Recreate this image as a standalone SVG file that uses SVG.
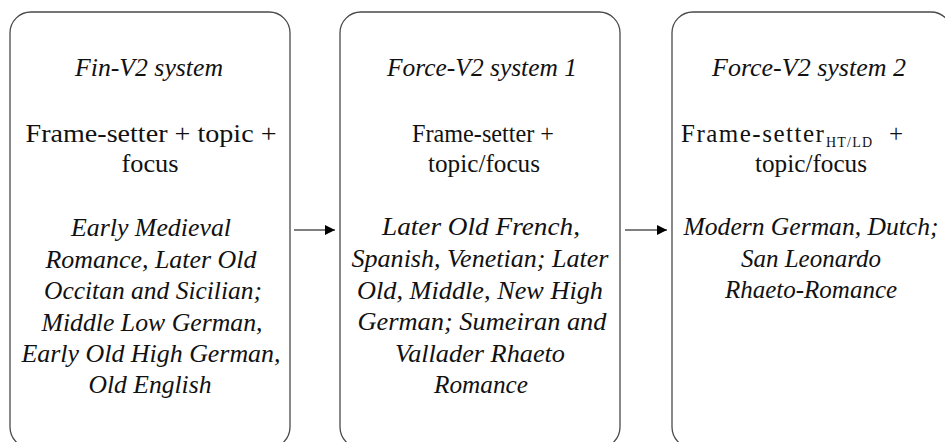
<svg xmlns="http://www.w3.org/2000/svg" width="945" height="442" viewBox="0 0 945 442">
<style>
.box{fill:#fff;stroke:#4a4a4a;stroke-width:1.3}
text{font-family:'Liberation Serif','DejaVu Serif',serif;font-size:25px;fill:#111;text-anchor:middle}
.i{font-style:italic}
.c{stroke:#000;stroke-width:1.1;fill:none}
</style>
<defs>
<marker id="ah" viewBox="0 0 10 10" refX="10" refY="5" markerWidth="10" markerHeight="10" markerUnits="userSpaceOnUse" orient="auto">
<path d="M0,0 L10,5 L0,10 Z" fill="#000"/>
</marker>
</defs>
<rect width="945" height="442" fill="#fff"/>
<g id="fin-v2">
<rect class="box" x="10" y="12" width="280" height="436" rx="21" ry="21"/>
<text class="i" x="149" y="76" textLength="148" lengthAdjust="spacingAndGlyphs">Fin-V2 system</text>
<text x="151" y="142" textLength="251" lengthAdjust="spacingAndGlyphs">Frame-setter + topic +</text>
<text x="150" y="172" textLength="57" lengthAdjust="spacingAndGlyphs">focus</text>
<text class="i" x="151" y="236" textLength="160" lengthAdjust="spacingAndGlyphs">Early Medieval</text>
<text class="i" x="151" y="268" textLength="211" lengthAdjust="spacingAndGlyphs">Romance, Later Old</text>
<text class="i" x="153" y="299" textLength="218" lengthAdjust="spacingAndGlyphs">Occitan and Sicilian;</text>
<text class="i" x="152" y="331" textLength="221" lengthAdjust="spacingAndGlyphs">Middle Low German,</text>
<text class="i" x="151" y="362" textLength="259" lengthAdjust="spacingAndGlyphs">Early Old High German,</text>
<text class="i" x="150" y="393" textLength="123" lengthAdjust="spacingAndGlyphs">Old English</text>
</g>
<g id="force-v2-1">
<rect class="box" x="340" y="12" width="280" height="436" rx="21" ry="21"/>
<text class="i" x="482" y="76" textLength="190" lengthAdjust="spacingAndGlyphs">Force-V2 system 1</text>
<text x="483" y="142" textLength="142" lengthAdjust="spacingAndGlyphs">Frame-setter +</text>
<text x="484" y="172" textLength="112" lengthAdjust="spacingAndGlyphs">topic/focus</text>
<text class="i" x="481" y="235" textLength="198" lengthAdjust="spacingAndGlyphs">Later Old French,</text>
<text class="i" x="480" y="267" textLength="257" lengthAdjust="spacingAndGlyphs">Spanish, Venetian; Later</text>
<text class="i" x="480" y="299" textLength="246" lengthAdjust="spacingAndGlyphs">Old, Middle, New High</text>
<text class="i" x="482" y="330" textLength="249" lengthAdjust="spacingAndGlyphs">German; Sumeiran and</text>
<text class="i" x="480" y="362" textLength="170" lengthAdjust="spacingAndGlyphs">Vallader Rhaeto</text>
<text class="i" x="481" y="393" textLength="94" lengthAdjust="spacingAndGlyphs">Romance</text>
</g>
<g id="force-v2-2">
<rect class="box" x="672" y="12" width="280" height="436" rx="21" ry="21"/>
<text class="i" x="809" y="76" textLength="194" lengthAdjust="spacingAndGlyphs">Force-V2 system 2</text>
<text y="142" style="text-anchor:start"><tspan x="681" letter-spacing="1.5">Frame-setter</tspan><tspan x="826" dy="5" font-size="14" letter-spacing="1.2">HT/LD</tspan><tspan x="889" dy="-5">+</tspan></text>
<text x="811" y="172" textLength="112" lengthAdjust="spacingAndGlyphs">topic/focus</text>
<text class="i" x="811" y="235" textLength="255" lengthAdjust="spacingAndGlyphs">Modern German, Dutch;</text>
<text class="i" x="811" y="267">San Leonardo</text>
<text class="i" x="811" y="298">Rhaeto-Romance</text>
</g>
<g id="connectors">
<line class="c" x1="294" y1="230" x2="335" y2="230" marker-end="url(#ah)"/>
<line class="c" x1="625" y1="230" x2="667" y2="230" marker-end="url(#ah)"/>
</g>
</svg>
